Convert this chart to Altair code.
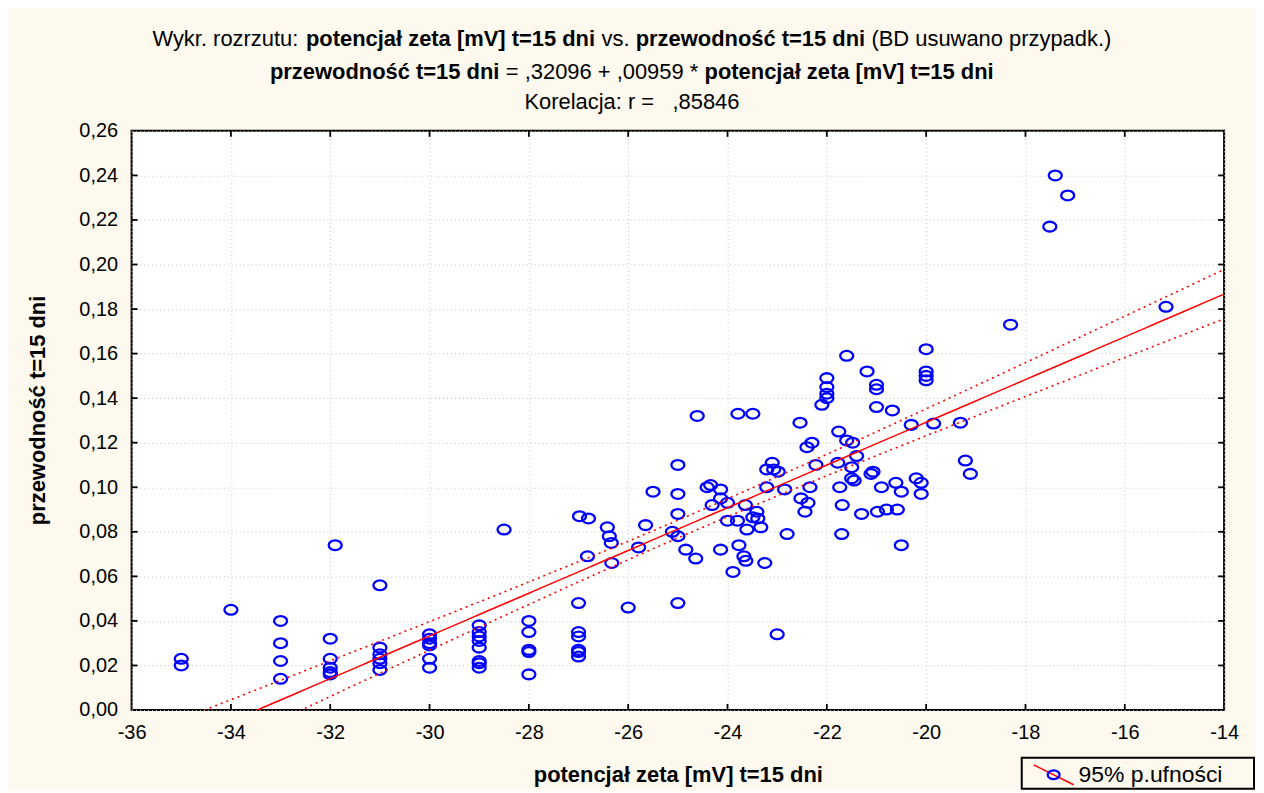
import altair as alt
import numpy as np
import pandas as pd

# ---------------- data ----------------
X_VALS = [
    -35, -35,
    -34,
    -33, -33, -33, -33,
    -31.9,
    -32, -32, -32, -32, -32,
    -31, -31, -31, -31, -31, -31,
    -30, -30, -30, -30, -30, -30,
    -29, -29, -29, -29, -29, -29, -29, -29,
    -28.5,
    -28, -28, -28, -28, -28,
    -27, -27, -27, -27, -27, -27,
    -26.98, -26.8, -26.82,
    -26.42, -26.38, -26.34, -26.33,
    -26.0,
    -25.79, -25.65, -25.5,
    -25, -25, -25, -25.11, -25, -25,
    -24.84, -24.64, -24.61,
    -24.41, -24.34, -24.31,
    -24.14, -24.14, -24.14,
    -24.0, -24.0,
    -23.89, -23.8, -23.79, -23.77,
    -23.67, -23.64, -23.63, -23.61,
    -23.49, -23.49, -23.41, -23.39,
    -23.33, -23.25, -23.21, -23.21,
    -23.10, -23.07, -23.0, -22.98,
    -22.85, -22.80,
    -22.54, -22.52, -22.44, -22.40, -22.38, -22.34, -22.30, -22.22,
    -22.1, -22, -22, -22, -22,
    -21.78, -21.76, -21.74, -21.70, -21.69,
    -21.6, -21.6, -21.48, -21.5, -21.5, -21.45, -21.4, -21.3,
    -21.19, -21.11, -21.07, -21.0, -21.0, -21.0, -20.98, -20.9, -20.8,
    -20.68, -20.61, -20.58, -20.5, -20.5,
    -20.3, -20.2, -20.1, -20.1,
    -20, -20, -20, -20,
    -19.85, -19.31, -19.21, -19.11,
    -18.3, -17.51, -17.4, -17.15, -15.17,
]
Y_VALS = [
    0.023, 0.020,
    0.045,
    0.040, 0.030, 0.022, 0.014,
    0.074,
    0.032, 0.023, 0.019, 0.017, 0.016,
    0.056, 0.028, 0.025, 0.023, 0.021, 0.018,
    0.034, 0.032, 0.030, 0.029, 0.023, 0.019,
    0.038, 0.035, 0.033, 0.031, 0.028, 0.022, 0.021, 0.019,
    0.081,
    0.040, 0.035, 0.027, 0.026, 0.016,
    0.048, 0.035, 0.033, 0.027, 0.026, 0.024,
    0.087, 0.086, 0.069,
    0.082, 0.078, 0.075, 0.066,
    0.046,
    0.073, 0.083, 0.098,
    0.110, 0.097, 0.088, 0.080, 0.078, 0.048,
    0.072, 0.068, 0.132,
    0.100, 0.101, 0.092,
    0.099, 0.095, 0.072,
    0.093, 0.085,
    0.062, 0.085, 0.133, 0.074,
    0.069, 0.092, 0.067, 0.081,
    0.133, 0.0865, 0.089, 0.086,
    0.082, 0.066, 0.108, 0.100,
    0.111, 0.108, 0.034, 0.107,
    0.099, 0.079,
    0.129, 0.095, 0.089, 0.118, 0.093, 0.100, 0.120, 0.110,
    0.137, 0.149, 0.145, 0.142, 0.140,
    0.111, 0.125, 0.100, 0.079, 0.092,
    0.159, 0.121, 0.120, 0.109, 0.104, 0.103, 0.114, 0.088,
    0.152, 0.106, 0.107, 0.146, 0.144, 0.136, 0.089, 0.100, 0.090,
    0.1345, 0.102, 0.090, 0.098, 0.074,
    0.128, 0.104, 0.102, 0.097,
    0.162, 0.152, 0.150, 0.148,
    0.1286, 0.129, 0.112, 0.106,
    0.173, 0.217, 0.240, 0.231, 0.181,
]
X_TICKS = [-36, -34, -32, -30, -28, -26, -24, -22, -20, -18, -16, -14]
Y_TICKS = [0.00, 0.02, 0.04, 0.06, 0.08, 0.10, 0.12, 0.14, 0.16, 0.18, 0.20, 0.22, 0.24, 0.26]
INTERCEPT = 0.32096
SLOPE = 0.00959
T_CRIT = 1.976

TITLE_LINES = [
    [("Wykr. rozrzutu:", False, 1), ("potencjał zeta [mV] t=15 dni", True, 1), ("vs.", False, 1),
     ("przewodność t=15 dni", True, 1), ("(BD usuwano przypadk.)", False, 0)],
    [("przewodność t=15 dni", True, 1), ("= ,32096 + ,00959 *", False, 1),
     ("potencjał zeta [mV] t=15 dni", True, 0)],
    [("Korelacja: r =", False, 3), (",85846", False, 0)],
]
X_TITLE = "potencjał zeta [mV] t=15 dni"
Y_TITLE = "przewodność t=15 dni"
LEGEND_TEXT = "95% p.ufności"

# ---------------- style ----------------
BG = "#FDF9EE"
FONT = "Liberation Sans"
W, H = 1096, 581
ELLIPSE = ("M -1 0 C -1 -0.414 -0.552 -0.75 0 -0.75 C 0.552 -0.75 1 -0.414 1 0 "
           "C 1 0.414 0.552 0.75 0 0.75 C -0.552 0.75 -1 0.414 -1 0 Z")

# Arial / Liberation Sans advance widths (1/1000 em)
REG = {" ": 278, ".": 278, ",": 278, ":": 278, "(": 333, ")": 333, "=": 584, "+": 584, "*": 389,
       "B": 667, "D": 722, "K": 667, "W": 944, "a": 556, "c": 500, "d": 556, "e": 556, "i": 222,
       "j": 222, "k": 500, "l": 222, "n": 556, "o": 556, "p": 556, "r": 333, "s": 500, "t": 278,
       "u": 556, "v": 500, "w": 722, "y": 500, "z": 500}
BOLD = {" ": 278, "[": 333, "]": 333, "=": 584, "V": 667, "a": 556, "c": 556, "d": 611, "e": 556,
        "i": 278, "j": 278, "k": 556, "l": 278, "ł": 278, "m": 889, "n": 611, "o": 611, "p": 611,
        "r": 389, "s": 556, "t": 333, "w": 778, "z": 500, "ś": 556, "ć": 556}


def text_width(s, bold, size):
    table = BOLD if bold else REG
    return sum(table.get(c, 556) for c in s) / 1000.0 * size


# ---------------- derived tables ----------------
pts = pd.DataFrame({"x": X_VALS, "y": Y_VALS})
xa = np.array(X_VALS, dtype=float)
ya = np.array(Y_VALS, dtype=float)
n = len(xa)
res = ya - (INTERCEPT + SLOPE * xa)
s_res = np.sqrt((res ** 2).sum() / (n - 2))
xbar = xa.mean()
sxx = ((xa - xbar) ** 2).sum()
grid = np.linspace(X_TICKS[0], X_TICKS[-1], 111)
fit = INTERCEPT + SLOPE * grid
hw = T_CRIT * s_res * np.sqrt(1.0 / n + (grid - xbar) ** 2 / sxx)
band = pd.DataFrame({"x": grid, "fit": fit, "lo": fit - hw, "hi": fit + hw})

xscale = alt.Scale(domain=[X_TICKS[0], X_TICKS[-1]], nice=False, zero=False)
yscale = alt.Scale(domain=[Y_TICKS[0], Y_TICKS[-1]], nice=False, zero=False)

x_axis = alt.Axis(values=X_TICKS, grid=True, gridColor="#c4c4c4", gridDash=[1, 3], gridWidth=1,
                  domain=False, ticks=False, labelExpr="'' + datum.value", labelFont=FONT,
                  labelFontSize=20, labelColor="black", labelPadding=13, labelFlush=False,
                  labelOverlap=False, title=X_TITLE, titleFont=FONT, titleFontSize=22,
                  titleFontWeight="bold", titleColor="black", titleY=65, titleBaseline="middle")
y_axis = alt.Axis(values=Y_TICKS, grid=True, gridColor="#c4c4c4", gridDash=[1, 3], gridWidth=1,
                  domain=False, ticks=False,
                  labelExpr="replace(format(datum.value, '.2f'), '.', ',')", labelFont=FONT,
                  labelFontSize=20, labelColor="black", labelPadding=14, labelFlush=False,
                  labelOverlap=False, title=Y_TITLE, titleFont=FONT, titleFontSize=22,
                  titleFontWeight="bold", titleColor="black", titleX=-94, titleY=280,
                  titleBaseline="middle", titleAlign="center", titleAngle=270)

points = alt.Chart(pts).mark_point(shape=ELLIPSE, size=170, filled=False, stroke="#0000FF",
                                   strokeWidth=2.3, opacity=1).encode(
    x=alt.X("x:Q", scale=xscale, axis=x_axis),
    y=alt.Y("y:Q", scale=yscale, axis=y_axis),
)

fit_line = alt.Chart(band).mark_line(color="#FF0000", strokeWidth=1.5, clip=True).encode(
    x=alt.X("x:Q", scale=xscale), y=alt.Y("fit:Q", scale=yscale))
lo_line = alt.Chart(band).mark_line(color="#FF0000", strokeWidth=1.6, strokeDash=[2, 4],
                                    clip=True).encode(
    x=alt.X("x:Q", scale=xscale), y=alt.Y("lo:Q", scale=yscale))
hi_line = alt.Chart(band).mark_line(color="#FF0000", strokeWidth=1.6, strokeDash=[2, 4],
                                    clip=True).encode(
    x=alt.X("x:Q", scale=xscale), y=alt.Y("hi:Q", scale=yscale))

xt = pd.DataFrame({"x": X_TICKS[1:-1]})
yt = pd.DataFrame({"y": Y_TICKS[1:-1]})
tick_style = dict(color="black", strokeWidth=1.8)
tick_bottom = alt.Chart(xt).mark_rule(**tick_style).encode(
    x=alt.X("x:Q", scale=xscale), y=alt.value(H), y2=alt.value(H - 6))
tick_top = alt.Chart(xt).mark_rule(**tick_style).encode(
    x=alt.X("x:Q", scale=xscale), y=alt.value(0), y2=alt.value(6))
tick_left = alt.Chart(yt).mark_rule(**tick_style).encode(
    y=alt.Y("y:Q", scale=yscale), x=alt.value(0), x2=alt.value(6))
tick_right = alt.Chart(yt).mark_rule(**tick_style).encode(
    y=alt.Y("y:Q", scale=yscale), x=alt.value(W), x2=alt.value(W - 6))

one = pd.DataFrame({"a": [0]})

# legend (drawn by hand: red line through a blue marker)
leg_box = alt.Chart(one).mark_rect(fill=BG, stroke="black", strokeWidth=2).encode(
    x=alt.value(893), x2=alt.value(1126), y=alt.value(629), y2=alt.value(660))
leg_line = alt.Chart(one).mark_rule(color="#FF0000", strokeWidth=1.5).encode(
    x=alt.value(905), x2=alt.value(945), y=alt.value(636), y2=alt.value(656))
leg_pt = alt.Chart(one).mark_point(shape=ELLIPSE, size=140, filled=False, stroke="#0000FF",
                                   strokeWidth=2.3, opacity=1).encode(
    x=alt.value(925), y=alt.value(646))
leg_txt = alt.Chart(one).mark_text(font=FONT, fontSize=23, align="left", baseline="middle",
                                   color="black").encode(
    x=alt.value(950), y=alt.value(646), text=alt.value(LEGEND_TEXT))

# title lines with mixed bold / regular segments
title_layers = []
TITLE_SIZE = 22
line_y = [-92, -59, -29]
centre = 502
for segs, ly in zip(TITLE_LINES, line_y):
    total = sum(text_width(t, b, TITLE_SIZE) + g * REG[" "] / 1000.0 * TITLE_SIZE for t, b, g in segs)
    cur = centre - total / 2.0
    for t, b, g in segs:
        title_layers.append(
            alt.Chart(one).mark_text(font=FONT, fontSize=TITLE_SIZE, align="left",
                                     baseline="middle", color="black",
                                     fontWeight="bold" if b else "normal").encode(
                x=alt.value(round(cur, 1)), y=alt.value(ly), text=alt.value(t)))
        cur += text_width(t, b, TITLE_SIZE) + g * REG[" "] / 1000.0 * TITLE_SIZE

chart = alt.layer(
    points, fit_line, lo_line, hi_line,
    tick_bottom, tick_top, tick_left, tick_right,
    leg_box, leg_line, leg_pt, leg_txt,
    *title_layers,
).properties(
    width=W, height=H,
    autosize=alt.AutoSizeParams(type="none"),
    padding={"left": 124, "top": 122, "right": 32, "bottom": 80},
    background=BG,
).configure_view(
    fill="white", stroke="black", strokeWidth=2
)

chart.save("out.html", embed_options={"renderer": "svg", "actions": False})
